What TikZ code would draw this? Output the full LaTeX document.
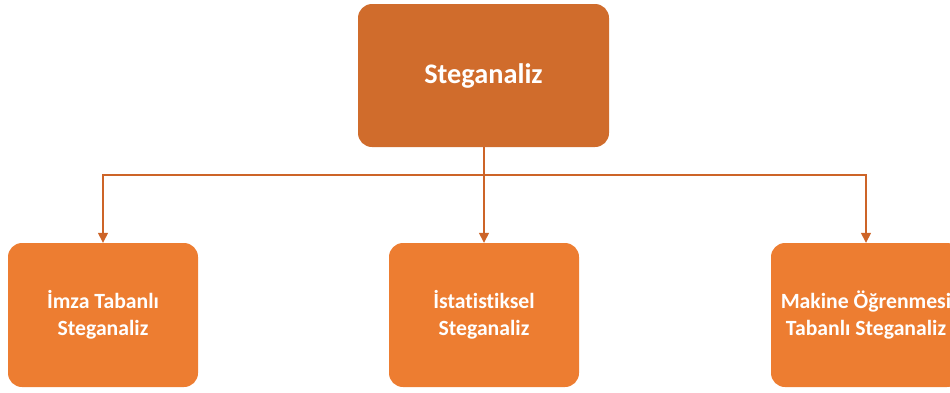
\documentclass[tikz,border=0pt]{standalone}
\usepackage{fontspec}
\setmainfont{Carlito}[Ligatures=NoCommon]
\usetikzlibrary{arrows.meta}
\definecolor{rootorange}{RGB}{208,108,44}
\definecolor{leaforange}{RGB}{237,125,49}
\definecolor{lineorange}{RGB}{205,100,40}

\begin{document}
\begin{tikzpicture}[x=1pt,y=-1pt,
			root node/.style={rectangle,rounded corners=14pt,fill=rootorange,
				text=white,font=\fontsize{28.3}{34}\selectfont\bfseries,
				minimum width=251pt,minimum height=143pt,align=center},
			leaf node/.style={rectangle,rounded corners=14pt,fill=leaforange,
				text=white,font=\fontsize{21.7}{26.5}\selectfont\bfseries,
				minimum width=190pt,minimum height=144pt,align=center},
			link/.style={draw=lineorange,line width=1.4pt,
				-{Triangle[length=10pt,width=10pt]}}]
			
			\useasboundingbox (0,0) rectangle (950,392);
			
			\node[root node] (S) at (483.5,75.5) {Steganaliz};
			\node[leaf node] (I) at (103,315) {İmza Tabanlı\\Steganaliz};
			\node[leaf node] (T) at (484,315) {İstatistiksel\\Steganaliz};
			\node[leaf node] (M) at (866,315) {Makine Öğrenmesi\\Tabanlı Steganaliz};
			\coordinate (J) at (484,175);
			
			\draw[draw=lineorange,line width=1.4pt] (S.south -| J) -- (J);
			\draw[link] (J) -| (I.north);
			\draw[link] (J) -- (T.north);
			\draw[link] (J) -| (M.north);
			
		\end{tikzpicture}
\end{document}
